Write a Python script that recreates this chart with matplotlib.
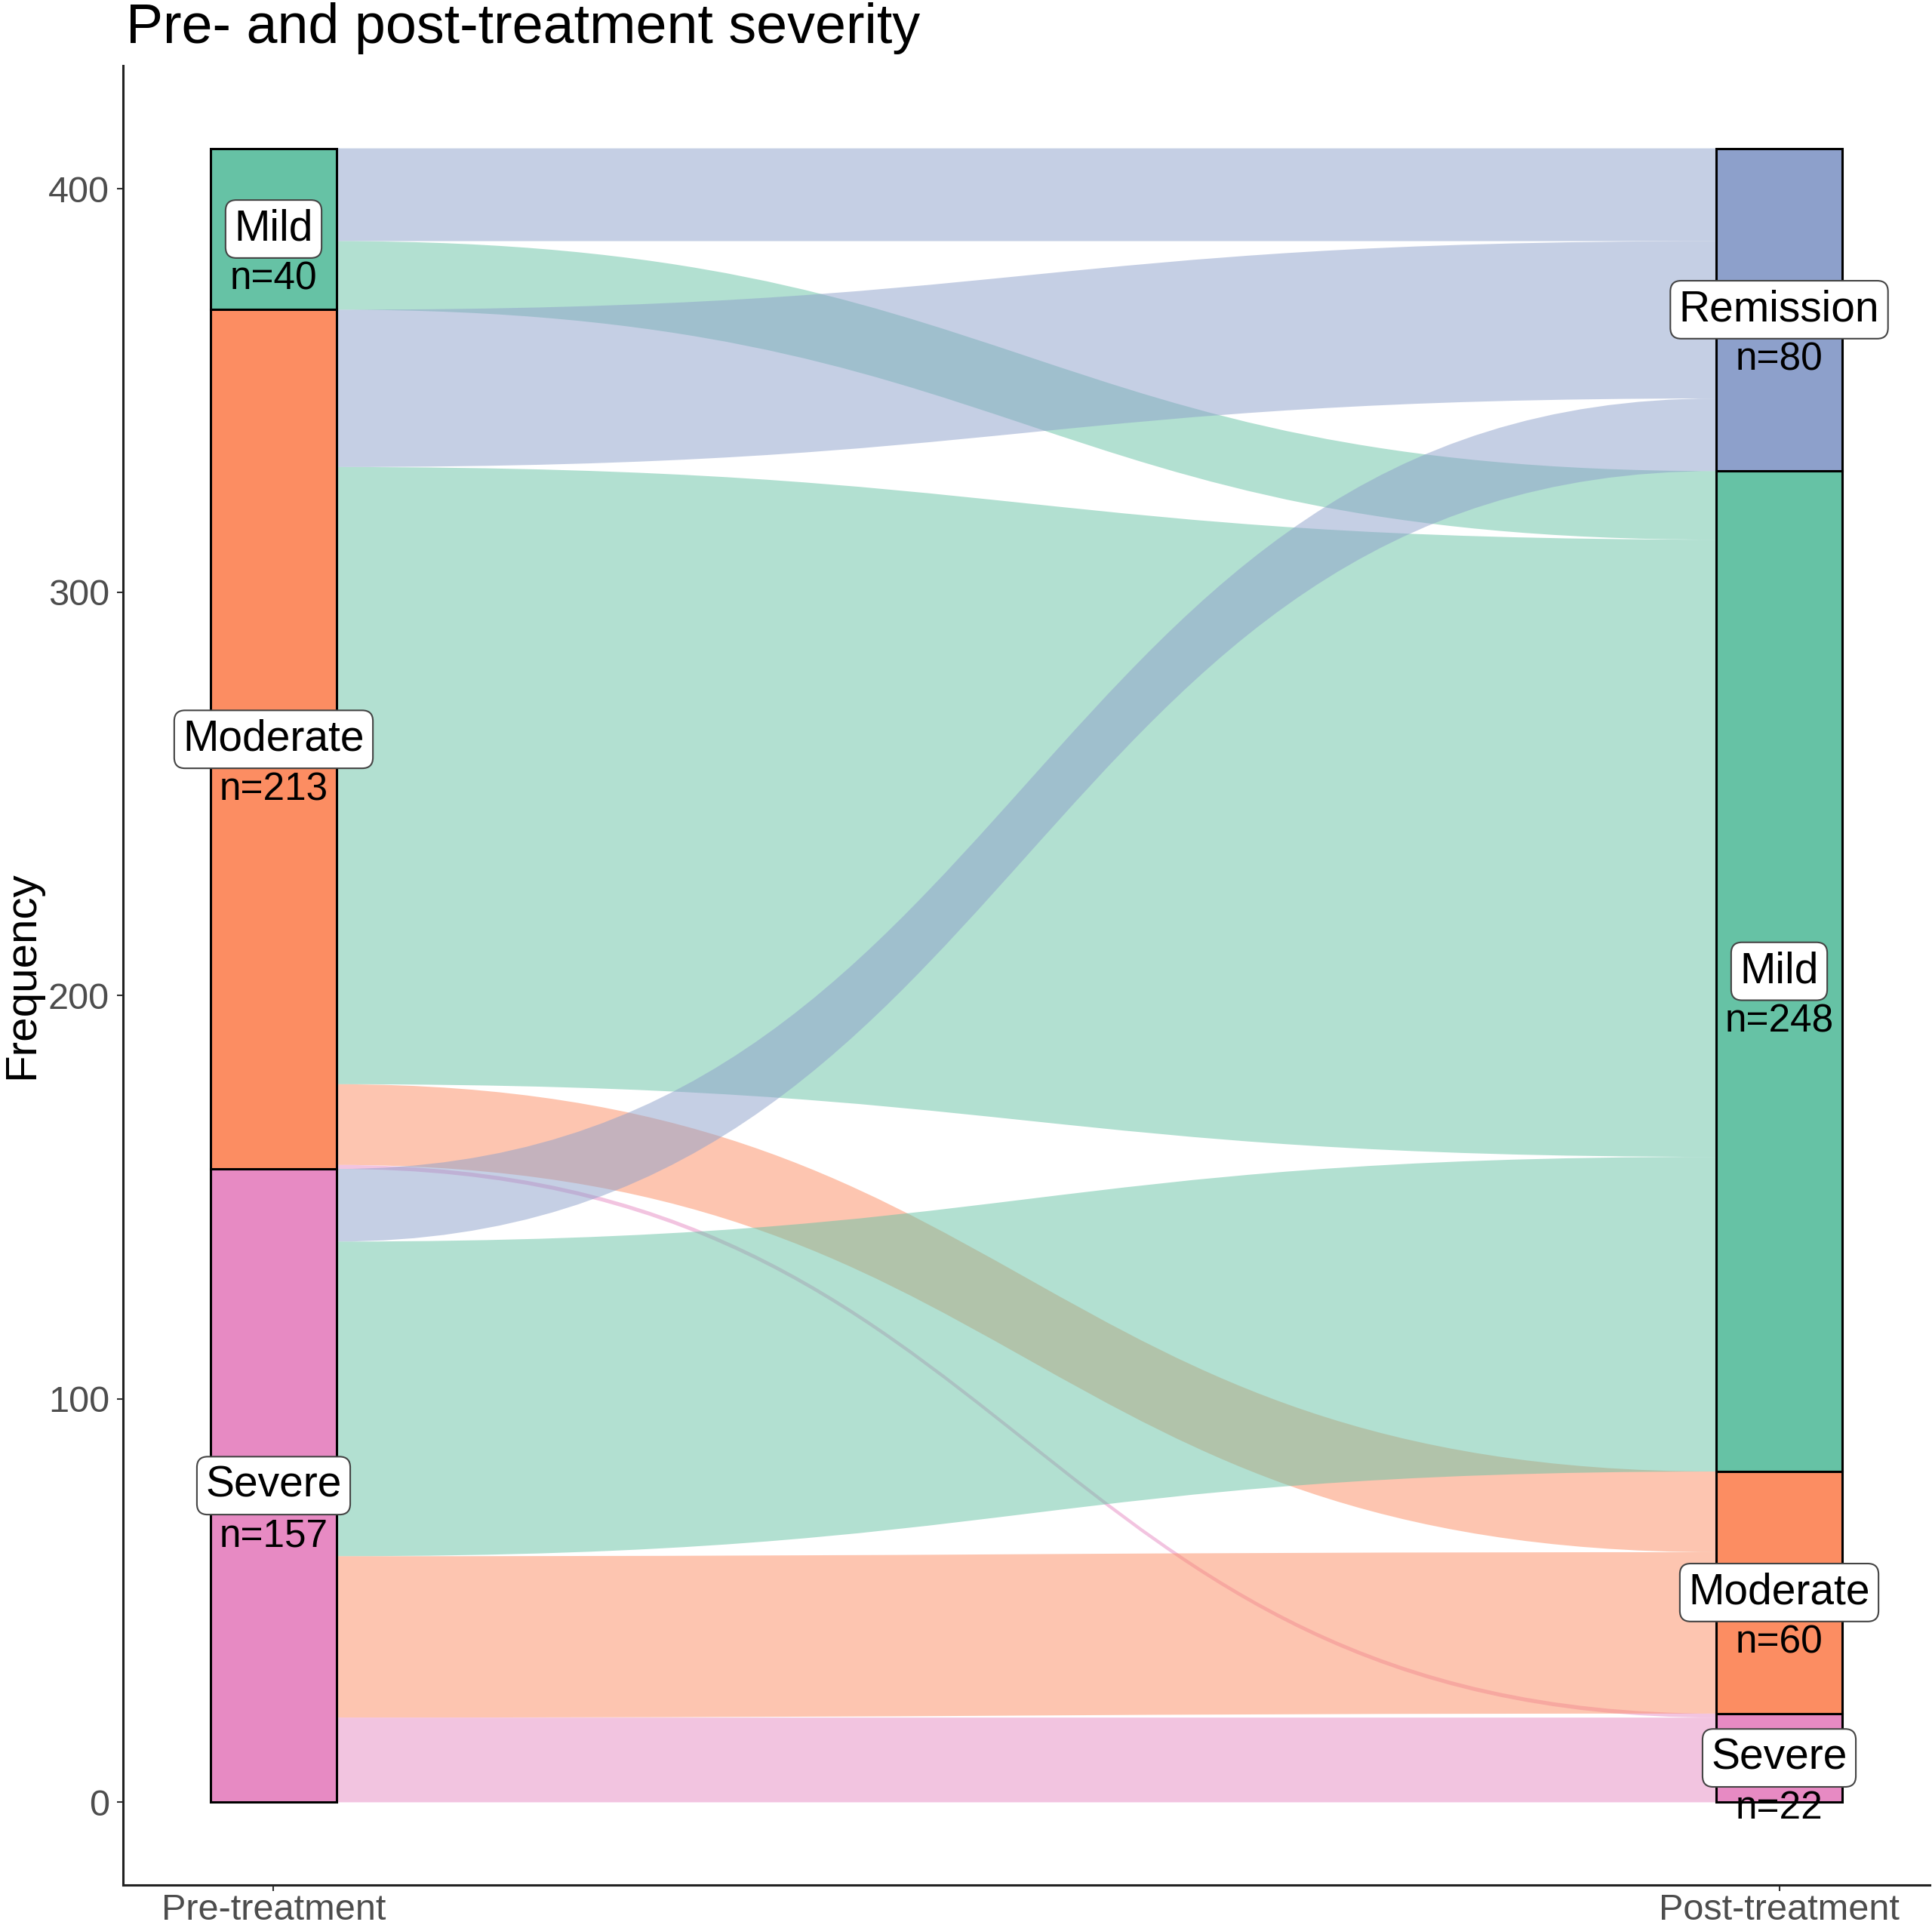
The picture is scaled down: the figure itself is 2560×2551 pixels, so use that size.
import numpy as np
import matplotlib
matplotlib.use("Agg")
import matplotlib.pyplot as plt
from matplotlib.path import Path
from matplotlib.patches import PathPatch, Rectangle

plt.rcParams['font.family'] = ['Liberation Sans', 'DejaVu Sans']

# data: counts of patients moving from pre- to post-treatment severity
axis_names = ["Pre-treatment", "Post-treatment"]
pre_levels = ["Mild", "Moderate", "Severe"]
post_levels = ["Remission", "Mild", "Moderate", "Severe"]
# rows = pre level, cols = post level
flows = np.array([
    [23, 17, 0, 0],
    [39, 153, 20, 1],
    [18, 78, 40, 21],
])

colors = {"Remission": "#8DA0CB", "Mild": "#66C2A5",
          "Moderate": "#FC8D62", "Severe": "#E78AC3"}

pre_tot = flows.sum(axis=1)
post_tot = flows.sum(axis=0)
total = flows.sum()

width = 1 / 12
knot = 0.5

fig = plt.figure(figsize=(25.6, 25.51), dpi=100)
ax = fig.add_axes([0.06367, 0.02078, 0.93516, 0.94512])

# stratum tops (levels stacked from the top down)
pre_top = total - np.concatenate([[0], np.cumsum(pre_tot)[:-1]])
post_top = total - np.concatenate([[0], np.cumsum(post_tot)[:-1]])

# flow positions inside each stratum
left_top = {}
cur = pre_top.copy().astype(float)
for i in range(len(pre_levels)):
    for j in range(len(post_levels)):
        left_top[(i, j)] = cur[i]
        cur[i] -= flows[i, j]
right_top = {}
cur = post_top.copy().astype(float)
for j in range(len(post_levels)):
    for i in range(len(pre_levels)):
        right_top[(i, j)] = cur[j]
        cur[j] -= flows[i, j]

x0 = 1 + width / 2
x1 = 2 - width / 2
gap = x1 - x0
for i in range(len(pre_levels)):
    for j in range(len(post_levels)):
        n = flows[i, j]
        if n == 0:
            continue
        lt, rt = left_top[(i, j)], right_top[(i, j)]
        lb, rb = lt - n, rt - n
        verts = [(x0, lt), (x0 + knot * gap, lt), (x1 - knot * gap, rt), (x1, rt),
                 (x1, rb), (x1 - knot * gap, rb), (x0 + knot * gap, lb), (x0, lb),
                 (x0, lt)]
        codes = [Path.MOVETO, Path.CURVE4, Path.CURVE4, Path.CURVE4,
                 Path.LINETO, Path.CURVE4, Path.CURVE4, Path.CURVE4,
                 Path.CLOSEPOLY]
        ax.add_patch(PathPatch(Path(verts, codes), facecolor=colors[post_levels[j]],
                               alpha=0.5, edgecolor='none', zorder=1))

# strata and labels
for xpos, levels, tops, tots in [(1, pre_levels, pre_top, pre_tot),
                                 (2, post_levels, post_top, post_tot)]:
    for lev, top, n in zip(levels, tops, tots):
        ax.add_patch(Rectangle((xpos - width / 2, top - n), width, n,
                               facecolor=colors[lev], edgecolor='black',
                               linewidth=2.2, zorder=3))
        mid = top - n / 2
        ax.text(xpos, mid, lev, ha='center', va='center', fontsize=41, zorder=5,
                bbox=dict(boxstyle='round,pad=0.2,rounding_size=0.25',
                          fc='white', ec='#444444', lw=1.5))
        ax.text(xpos, mid - 12.5, f"n={n}", ha='center', va='center',
                fontsize=37, zorder=5)

ax.set_xlim(0.9, 2.1)
ax.set_ylim(-20.5, 430.5)
ax.set_xticks([1, 2])
ax.set_xticklabels(axis_names)
ax.set_yticks([0, 100, 200, 300, 400])
ax.tick_params(axis='both', labelsize=35, labelcolor='#4D4D4D', color='#333333',
               length=6, width=1.5)
ax.tick_params(axis='y', pad=7)
ax.tick_params(axis='x', pad=2)
for s in ['top', 'right']:
    ax.spines[s].set_visible(False)
for s in ['left', 'bottom']:
    ax.spines[s].set_linewidth(2.2)
    ax.spines[s].set_color('#222222')

fig.text(0.0652, 0.97766, "Pre- and post-treatment severity", fontsize=53,
         ha='left', va='baseline')
fig.text(0.001, 0.02078 + 0.94512 / 2, "Frequency", fontsize=42, rotation=90,
         ha='left', va='center')

fig.savefig("out.png", dpi=100)
